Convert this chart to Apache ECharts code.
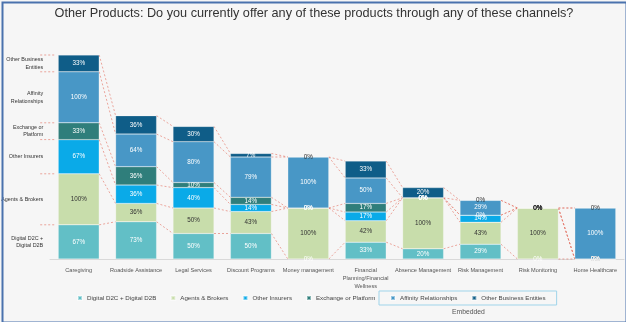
<!DOCTYPE html>
<html>
<head>
<meta charset="utf-8">
<script src="https://cdn.jsdelivr.net/npm/echarts@6/dist/echarts.min.js"></script>
<style>
  html, body { margin: 0; padding: 0; background: #f6f6f6; }
  #chart { width: 626px; height: 322px; }
</style>
</head>
<body>
<div id="chart"></div>
<script>
// Products (x categories)
var categories = ['Caregiving', 'Roadside Assistance', 'Legal Services', 'Discount Programs',
  'Money management', 'Financial\nPlanning/Financial\nWellness', 'Absence Management',
  'Risk Management', 'Risk Monitoring', 'Home Healthcare'];

// Channel names, bottom to top of each stack
var channels = ['Digital D2C + Digital D2B', 'Agents & Brokers', 'Other Insurers',
  'Exchange or Platform', 'Affinity Relationships', 'Other Business Entities'];

// Short labels written beside the first stack
var channelSideLabels = ['Digital D2C +\nDigital D2B', 'Agents & Brokers', 'Other Insurers',
  'Exchange or\nPlatform', 'Affinity\nRelationships', 'Other Business\nEntities'];

// Share (%) offering each product through each channel
var digital   = [67, 73, 50, 50, 0,   33, 20,  29, 0,   0];
var agents    = [100, 36, 50, 43, 100, 42, 100, 43, 100, 0];
var insurers  = [67, 36, 40, 14, 0,   17, 0,   14, 0,   0];
var exchange  = [33, 36, 10, 14, 0,   17, 0,   0,  0,   0];
var affinity  = [100, 64, 80, 79, 100, 50, 0,   29, 0,   100];
var business  = [33, 36, 30, 7,  0,   33, 20,  0,  0,   0];

var seriesValues = [digital, agents, insurers, exchange, affinity, business];
var colors = ['#62bfc6', '#c8ddab', '#0aaae8', '#2f7e7b', '#4897c6', '#0f5d88'];
var labelColors = ['#ffffff', '#333333', '#ffffff', '#ffffff', '#ffffff', '#ffffff'];

var BAR_W = 41;
var FONT = "'Liberation Sans', Arial, sans-serif";

// cumulative stack boundaries per category
var cum = categories.map(function (c, i) {
  var acc = [0], s = 0;
  seriesValues.forEach(function (arr) { s += arr[i]; acc.push(s); });
  return acc;
});
function totalOf(i) { return cum[i][cum[i].length - 1]; }

var barSeries = seriesValues.map(function (arr, k) {
  return {
    name: channels[k],
    type: 'bar',
    stack: 'all',
    barWidth: BAR_W,
    itemStyle: { color: colors[k], borderColor: 'rgba(255,255,255,0.45)', borderWidth: 0.5 },
    label: {
      show: true, position: 'inside', fontSize: 6.3, fontFamily: FONT,
      color: labelColors[k], formatter: '{c}%'
    },
    z: 3,
    data: arr.map(function (v, i) {
      var item = { value: v };
      // zero segments sitting on top of a stack get dark text
      if (v === 0 && cum[i][k + 1] === totalOf(i)) item.label = { color: '#333333' };
      return item;
    })
  };
});

// dashed connectors between matching boundaries of adjacent stacks
var connectorSeries = {
  type: 'custom',
  z: 2,
  silent: true,
  data: categories.map(function (c, i) { return [i]; }),
  renderItem: function (params, api) {
    var i = api.value(0);
    var children = [];
    var style = { stroke: 'rgba(226,110,95,0.75)', lineWidth: 0.8, lineDash: [2, 2] };
    for (var k = 1; k < cum[i].length; k++) {
      var p1 = api.coord([i, cum[i][k]]);
      if (i < categories.length - 1) {
        var p2 = api.coord([i + 1, cum[i + 1][k]]);
        children.push({ type: 'line', shape: { x1: p1[0] + BAR_W / 2, y1: p1[1], x2: p2[0] - BAR_W / 2, y2: p2[1] }, style: style });
      }
      if (i === 0) {
        children.push({ type: 'line', shape: { x1: p1[0] - BAR_W / 2 - 18, y1: p1[1], x2: p1[0] - BAR_W / 2 - 2, y2: p1[1] }, style: style });
      }
    }
    return { type: 'group', children: children };
  }
};

// channel names beside the first stack, centred on its segments
var sideLabelSeries = {
  type: 'custom',
  z: 4,
  silent: true,
  data: channels.map(function (c, k) { return [0, (cum[0][k] + cum[0][k + 1]) / 2, k]; }),
  renderItem: function (params, api) {
    var p = api.coord([api.value(0), api.value(1)]);
    return {
      type: 'text',
      style: {
        text: channelSideLabels[api.value(2)], x: p[0] - BAR_W / 2 - 15, y: p[1],
        align: 'right', verticalAlign: 'middle', fontSize: 5.4, lineHeight: 7.5,
        fontFamily: FONT, fill: '#333333'
      }
    };
  }
};

var chart = echarts.init(document.getElementById('chart'), null, { renderer: 'canvas' });
chart.setOption({
  backgroundColor: '#f6f6f6',
  animation: false,
  color: colors,
  title: {
    text: 'Other Products: Do you currently offer any of these products through any of these channels?',
    left: 309, textAlign: 'center', top: 2,
    textStyle: { fontSize: 12.7, fontWeight: 'normal', color: '#333333', fontFamily: FONT }
  },
  grid: { left: 50, right: 2, top: 55, bottom: 63 },
  xAxis: {
    type: 'category',
    data: categories,
    axisLine: { show: true, lineStyle: { color: '#d9d9d9', width: 1 } },
    axisTick: { show: false },
    axisLabel: { interval: 0, fontSize: 5.6, lineHeight: 8, color: '#555555', margin: 7, fontFamily: FONT }
  },
  yAxis: {
    type: 'value', min: 0, max: 400,
    show: false, splitLine: { show: false }
  },
  legend: [
    {
      data: channels.slice(0, 4), left: 77, top: 295, padding: 0, itemGap: 14,
      itemWidth: 4, itemHeight: 4, icon: 'rect',
      textStyle: { fontSize: 6.2, color: '#444444', fontFamily: FONT }
    },
    {
      data: channels.slice(4), left: 379, top: 291, padding: [4, 11, 4, 11], itemGap: 14,
      itemWidth: 4, itemHeight: 4, icon: 'rect',
      borderColor: '#9fd4ea', borderWidth: 1,
      textStyle: { fontSize: 6.2, color: '#444444', fontFamily: FONT }
    }
  ],
  graphic: [
    { type: 'text', left: 452, top: 309, style: { text: 'Embedded', fontSize: 6.8, fill: '#555555', fontFamily: FONT } },
    { type: 'rect', left: 0, top: 0, shape: { width: 624, height: 320 }, style: { fill: 'none', stroke: '#4a72ad', lineWidth: 2 }, silent: true, z: 100 }
  ],
  series: barSeries.concat([connectorSeries, sideLabelSeries])
});
</script>
</body>
</html>
